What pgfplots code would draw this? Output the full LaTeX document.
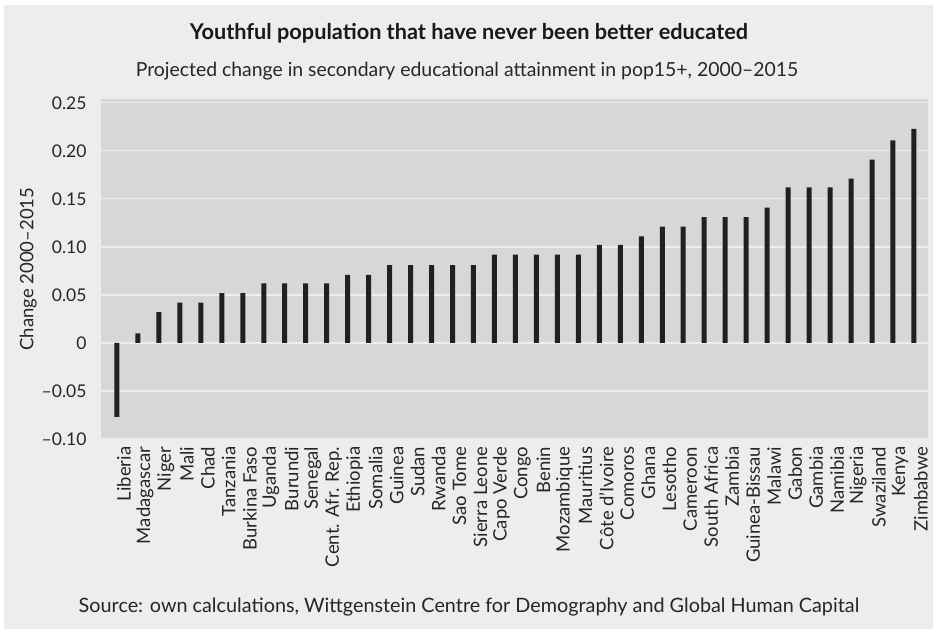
\documentclass[border=0pt]{standalone}
\usepackage{fontspec}
\setmainfont{Lato}
\usepackage{pgfplots}
\pgfplotsset{compat=1.18}
\definecolor{panel}{HTML}{EDEDED}
\definecolor{plotbg}{HTML}{D6D7D9}
\definecolor{gridc}{HTML}{EEEEEE}
\definecolor{barc}{HTML}{231F20}
\newcommand{\fs}[1]{\fontsize{#1}{#1}\selectfont}
\begin{document}
\begin{tikzpicture}
% background panel
\fill[white] (0pt,0pt) rectangle (935pt,-632pt);
\fill[panel] (4pt,-5pt) rectangle (933pt,-629pt);
\node[anchor=base, font=\fs{21.7}\bfseries, text=black!90] at (469pt,-39pt)
  {Youthful population that have never been better educated};
\node[anchor=base, font=\fs{19.4}, text=black!85] at (467pt,-76pt)
  {Projected change in secondary educational attainment in pop15+, 2000–2015};
\node[anchor=base, font=\fs{19.8}, text=black!85] at (469pt,-612pt)
  {Source: own calculations, Wittgenstein Centre for Demography and Global Human Capital};
\begin{axis}[
    at={(101pt,-439pt)}, anchor=south west,
    scale only axis,
    width=827pt, height=340pt,
    ybar, bar width=5pt,
    xmin=-0.76, xmax=38.67,
    ymin=-0.10, ymax=0.254,
    axis background/.style={fill=plotbg},
    axis line style={draw=none},
    major tick style={draw=none},
    ymajorgrids, grid style={gridc, line width=1.2pt},
    ytick={-0.10,-0.05,0,0.05,0.10,0.15,0.20,0.25},
    yticklabels={–0.10,–0.05,0,0.05,0.10,0.15,0.20,0.25},
    yticklabel style={font=\fs{17.5}, text=black!85, xshift=-11pt},
    xtick=data,
    xticklabels={Liberia, Madagascar, Niger, Mali, Chad, Tanzania, Burkina Faso,
      Uganda, Burundi, Senegal, Cent. Afr. Rep., Ethiopia, Somalia, Guinea, Sudan,
      Rwanda, Sao Tome, Sierra Leone, Capo Verde, Congo, Benin, Mozambique,
      Mauritius, Côte d’Ivoire, Comoros, Ghana, Lesotho, Cameroon, South Africa,
      Zambia, Guinea-Bissau, Malawi, Gabon, Gambia, Namibia, Nigeria, Swaziland,
      Kenya, Zimbabwe},
    xticklabel style={font=\fs{18.5}, text=black!85, rotate=90, anchor=east, yshift=-7pt},
    ylabel={Change 2000–2015},
    ylabel style={font=\fs{18.5}, text=black!85, yshift=-2pt},
]
\addplot[fill=barc, draw=none] coordinates {
 (0,-0.077) (1,0.010) (2,0.032) (3,0.042) (4,0.042) (5,0.052) (6,0.052)
 (7,0.062) (8,0.062) (9,0.062) (10,0.062) (11,0.071) (12,0.071) (13,0.081)
 (14,0.081) (15,0.081) (16,0.081) (17,0.081) (18,0.092) (19,0.092) (20,0.092)
 (21,0.092) (22,0.092) (23,0.102) (24,0.102) (25,0.111) (26,0.121) (27,0.121)
 (28,0.131) (29,0.131) (30,0.131) (31,0.141) (32,0.162) (33,0.162) (34,0.162)
 (35,0.171) (36,0.191) (37,0.211) (38,0.223)
};
\end{axis}
\end{tikzpicture}
\end{document}
